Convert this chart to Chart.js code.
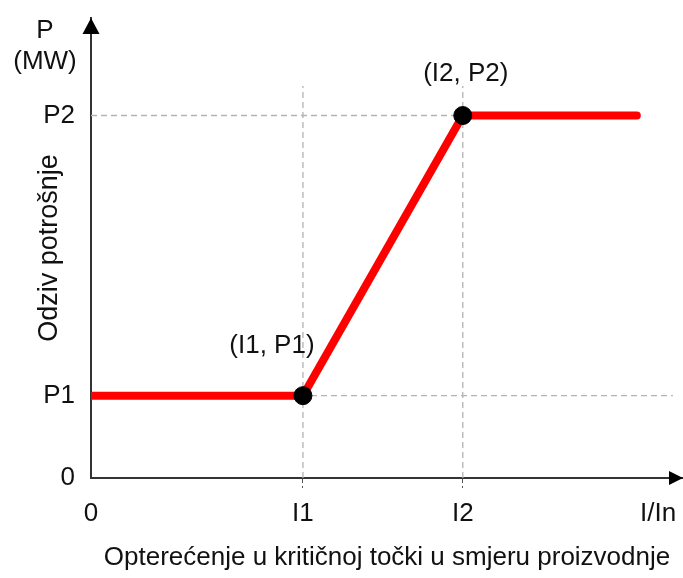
<!DOCTYPE html>
<html lang="hr">
<head>
    <meta charset="UTF-8">
    <title>Odziv potrošnje</title>
    <script src="https://cdn.jsdelivr.net/npm/chart.js"></script>
    <style>
        body { margin: 0; background: #fff; }
        #wrap { width: 683px; height: 578px; }
    </style>
</head>
<body>
    <div id="wrap"><canvas id="odziv" width="683" height="578"></canvas></div>

    <script>
        // podaci (relativne jedinice, os x i y od 0 do 100)
        const xTickValues = [0, 35.8, 62.8, 95.8];
        const xTickLabels = ['0', 'I1', 'I2', 'I/In'];
        const yTickValues = [0, 17.9, 78.8];
        const yTickLabels = ['0', 'P1', 'P2'];

        const responseX = [0, 35.8, 62.8, 92.2];
        const responseY = [17.9, 17.9, 78.8, 78.8];

        const pointX = [35.8, 62.8];
        const pointY = [17.9, 78.8];
        const pointLabels = ['(I1, P1)', '(I2, P2)'];

        const guideTop = 85.2;
        const guideRight = 98.3;

        const FONT = '"Liberation Sans", Arial, sans-serif';
        const GUIDE = '#b3b3b3';
        const AXIS = '#333333';

        const toXY = (xs, ys) => xs.map((x, i) => ({ x: x, y: ys[i] }));

        // isprekidane pomocne linije
        const guides = [
            toXY([0, guideRight], [yTickValues[1], yTickValues[1]]),
            toXY([0, xTickValues[2]], [yTickValues[2], yTickValues[2]]),
            toXY([xTickValues[1], xTickValues[1]], [0, guideTop]),
            toXY([xTickValues[2], xTickValues[2]], [0, guideTop])
        ].map(d => ({
            data: d,
            showLine: true,
            borderColor: GUIDE,
            borderWidth: 1.3,
            borderDash: [6, 4],
            pointRadius: 0,
            order: 3
        }));

        // strelice na osima, oznake tocaka i P (MW)
        const extras = {
            id: 'extras',
            afterDatasetsDraw(chart) {
                const ctx = chart.ctx;
                const x = chart.scales.x, y = chart.scales.y;
                const ox = x.getPixelForValue(0), oy = y.getPixelForValue(0);
                ctx.save();
                ctx.fillStyle = '#000';
                ctx.beginPath();
                ctx.moveTo(ox, chart.chartArea.top);
                ctx.lineTo(ox - 8.5, chart.chartArea.top + 16);
                ctx.lineTo(ox + 8.5, chart.chartArea.top + 16);
                ctx.closePath();
                ctx.fill();
                ctx.beginPath();
                ctx.moveTo(chart.chartArea.right, oy);
                ctx.lineTo(chart.chartArea.right - 14, oy - 7);
                ctx.lineTo(chart.chartArea.right - 14, oy + 7);
                ctx.closePath();
                ctx.fill();

                ctx.font = '26px ' + FONT;
                ctx.textAlign = 'center';
                ctx.textBaseline = 'middle';
                ctx.fillStyle = '#111';
                const offs = [[-31, -50], [3, -42]];
                pointLabels.forEach((t, i) => {
                    ctx.fillText(t, x.getPixelForValue(pointX[i]) + offs[i][0],
                        y.getPixelForValue(pointY[i]) + offs[i][1]);
                });
                ctx.fillText('P', 45, 31);
                ctx.fillText('(MW)', 45, 62);
                ctx.restore();
            }
        };

        const noPad = s => {
            s.paddingLeft = 0;
            s.paddingRight = 0;
            s.paddingTop = 0;
            s.paddingBottom = 0;
        };

        new Chart(document.getElementById('odziv'), {
            type: 'scatter',
            data: {
                datasets: [
                    {
                        data: toXY(pointX, pointY),
                        backgroundColor: '#000',
                        borderColor: '#000',
                        pointRadius: 9,
                        order: 0
                    },
                    {
                        data: toXY(responseX, responseY),
                        showLine: true,
                        borderColor: '#ff0000',
                        borderWidth: 8,
                        borderCapStyle: 'round',
                        borderJoinStyle: 'round',
                        pointRadius: 0,
                        order: 1
                    },
                    ...guides
                ]
            },
            options: {
                responsive: false,
                animation: false,
                layout: { autoPadding: false, padding: { top: 18, left: 0, right: 0, bottom: 0 } },
                plugins: {
                    legend: { display: false },
                    tooltip: { enabled: false }
                },
                scales: {
                    x: {
                        type: 'linear',
                        min: 0,
                        max: 100,
                        afterFit: s => { s.height = 100; noPad(s); },
                        afterBuildTicks: s => { s.ticks = xTickValues.map(v => ({ value: v })); },
                        border: { color: AXIS, width: 2 },
                        grid: {
                            drawOnChartArea: false,
                            drawTicks: true,
                            tickLength: 10,
                            tickBorderDash: [4, 3],
                            tickColor: c => (c.index === 1 || c.index === 2) ? '#555' : 'rgba(0,0,0,0)'
                        },
                        ticks: {
                            autoSkip: false,
                            maxRotation: 0,
                            padding: 10,
                            color: '#111',
                            font: { family: FONT, size: 26 },
                            callback: (v, i) => xTickLabels[i]
                        },
                        title: {
                            display: true,
                            text: 'Opterećenje u kritičnoj točki u smjeru proizvodnje',
                            color: '#111',
                            font: { family: FONT, size: 26 },
                            padding: { top: 0, bottom: 5 }
                        }
                    },
                    y: {
                        type: 'linear',
                        min: 0,
                        max: 100,
                        afterFit: s => { s.width = 91; noPad(s); },
                        afterBuildTicks: s => { s.ticks = yTickValues.map(v => ({ value: v })); },
                        border: { color: AXIS, width: 2 },
                        grid: {
                            drawOnChartArea: false,
                            drawTicks: true,
                            tickLength: 6,
                            tickColor: 'rgba(0,0,0,0)'
                        },
                        ticks: {
                            autoSkip: false,
                            padding: 10,
                            color: '#111',
                            font: { family: FONT, size: 26 },
                            callback: (v, i) => yTickLabels[i]
                        },
                        title: {
                            display: true,
                            text: 'Odziv potrošnje',
                            color: '#111',
                            font: { family: FONT, size: 27 },
                            padding: { top: 33, bottom: 0 }
                        }
                    }
                }
            },
            plugins: [extras]
        });
    </script>
</body>
</html>
